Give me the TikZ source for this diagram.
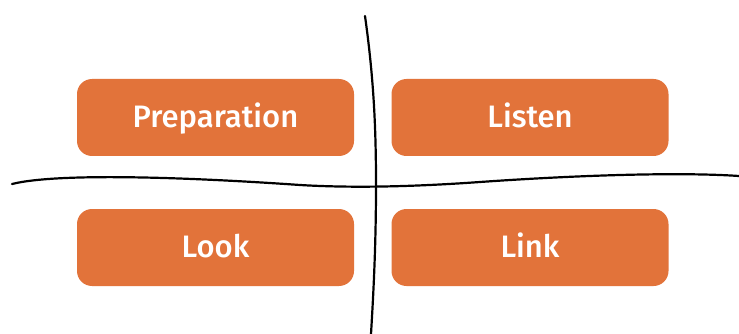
\documentclass[tikz,border=0pt]{standalone}
\usepackage{fontspec}
\setmainfont{Open Sans}
\newfontfamily\stagefont{Fira Sans}[UprightFont=*-Medium]
\usetikzlibrary{positioning}
\definecolor{boxorange}{RGB}{226,115,58}
\tikzstyle{stage} = [rectangle, rounded corners=15pt, minimum width=277pt, minimum height=77pt, text height=22pt, text depth=2pt, text centered, fill=boxorange, text=white, font=\stagefont\fontsize{31}{35}\selectfont]
\tikzstyle{divider} = [line width=2.2pt, black, line cap=round]
\begin{document}
\begin{tikzpicture}[x=1pt, y=-1pt]
    \useasboundingbox (0,0) rectangle (739,334);
    % Four stages
    \node[stage] (prep) at (215.5,117.5) {Preparation};
    \node[stage] (listen) at (530,117.5) {Listen};
    \node[stage] (look) at (215.5,247.5) {Look};
    \node[stage] (link) at (530,247.5) {Link};

    % Hand drawn dividers
    \draw[divider] (365,16) .. controls (374,80) and (376,130) .. (376,185)
        .. controls (376,250) and (373,300) .. (371,334);
    \draw[divider] (12,184) .. controls (60,172) and (200,178) .. (300,185)
        .. controls (350,188) and (410,187) .. (480,182)
        .. controls (580,175) and (680,172) .. (739,176);
\end{tikzpicture}
\end{document}
